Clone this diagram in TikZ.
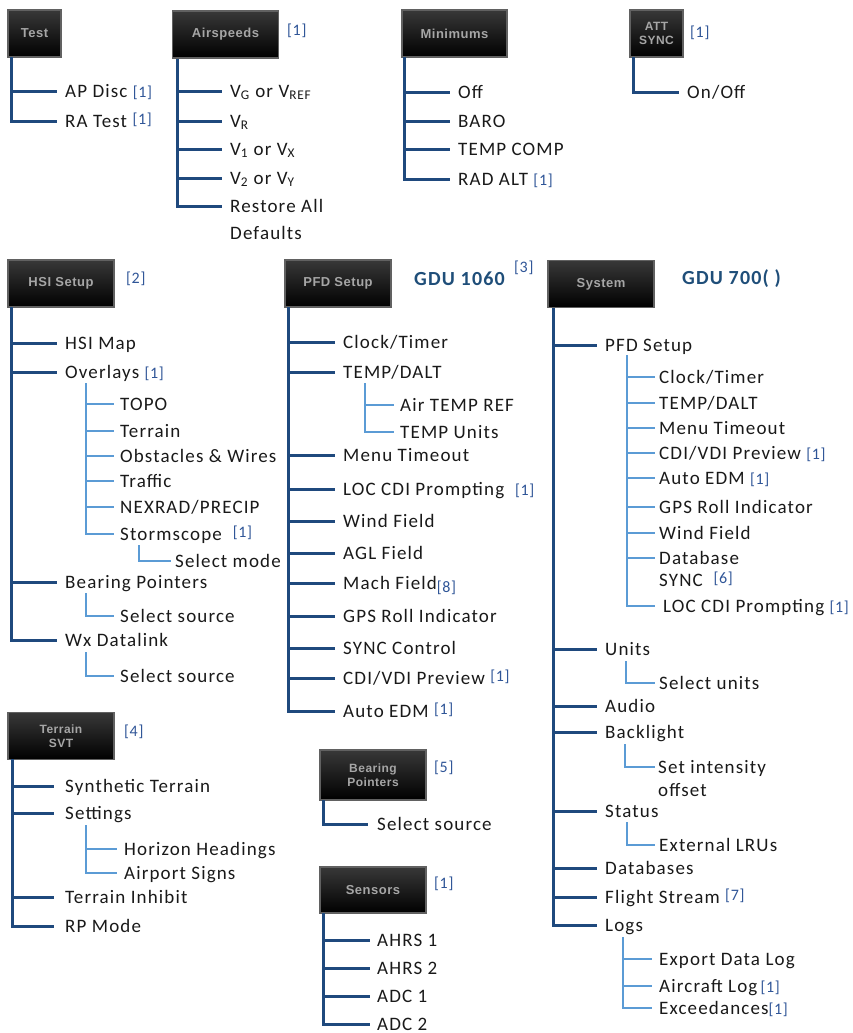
\documentclass[tikz,border=0pt]{standalone}
\usepackage{fontspec}
\setmainfont{Carlito}[LetterSpace=6]
\newfontfamily\btnfont{Liberation Sans}[LetterSpace=4]
\newfontfamily\fnfont{Carlito}[LetterSpace=4]
\usetikzlibrary{calc}
\definecolor{mainblue}{RGB}{31,73,125}
\definecolor{subblue}{RGB}{91,155,213}
\definecolor{fnblue}{RGB}{47,85,151}
\definecolor{gdublue}{RGB}{31,78,121}
\newcommand\fnote[1]{\textcolor{fnblue}{\fnfont\fontsize{16}{18}\selectfont[#1]}}
\newcommand\fnup[1]{\raisebox{3pt}{\fnote{#1}}}
\newcommand\fndown[1]{\raisebox{-3pt}{\fnote{#1}}}
\tikzset{
  main/.style={draw=mainblue, line width=3pt},
  sub/.style={draw=subblue, line width=2.6pt},
  leaf/.style={anchor=west, inner xsep=8pt, inner ysep=0pt, text height=14pt, text depth=2pt,
    font=\fontsize{19}{22}\selectfont, text=black!90},
  sleaf/.style={leaf, inner xsep=6pt},
  fnn/.style={anchor=west, inner sep=0pt, text=fnblue, font=\fnfont\fontsize{16}{18}\selectfont},
  gdu/.style={anchor=west, inner sep=0pt, text=gdublue, font=\fontsize{20}{22}\selectfont\bfseries},
  btn/.style={rectangle, minimum width=106pt, minimum height=47pt, inner sep=0pt,
    top color=black!78, bottom color=black, draw=black!62, line width=1.5pt,
    text=gray!70, align=center, font=\btnfont\fontsize{13}{14}\selectfont\bfseries},
  nbtn/.style={btn, minimum width=53pt},
}
\begin{document}
\begin{tikzpicture}[x=1pt, y=-1pt]
\useasboundingbox (0,0) rectangle (853,1033);

% ---------------- Test ----------------
\node[nbtn] (test) at (34.5,33.5) {Test};
\coordinate (tT) at (11,57);
\node[leaf] (apd) at (57,91) {AP Disc \fnote{1}};
\node[leaf] (rat) at (57,121) {RA Test \fnup{1}};
\draw[main] (tT) |- (rat.west);
\draw[main] (tT |- apd.west) -- (apd.west);

% ---------------- Airspeeds ----------------
\node[btn] (airs) at (225.5,34.5) {Airspeeds};
\node[fnn] (airsfn) at (287,31) {[1]};
\coordinate (tA) at (177,59);
\node[leaf] (vg) at (222,91) {V\textsubscript{G} or V\textsubscript{REF}};
\node[leaf] (vr) at (222,121) {V\textsubscript{R}};
\node[leaf] (v1) at (222,149) {V\textsubscript{1} or V\textsubscript{X}};
\node[leaf] (v2) at (222,178) {V\textsubscript{2} or V\textsubscript{Y}};
\node[leaf] (ra) at (222,206) {Restore All};
\node[leaf] (defl) at (222,233) {Defaults};
\draw[main] (tA) |- (ra.west);
\foreach \n in {vg,vr,v1,v2} \draw[main] (tA |- \n.west) -- (\n.west);

% ---------------- Minimums ----------------
\node[btn, minimum width=105pt] (mins) at (454.5,33.5) {Minimums};
\coordinate (tM) at (404,57);
\node[leaf] (off) at (450,92) {Off};
\node[leaf] (baro) at (450,121) {BARO};
\node[leaf] (tc) at (450,149) {TEMP COMP};
\node[leaf] (rad) at (450,179) {RAD ALT \fnote{1}};
\draw[main] (tM) |- (rad.west);
\foreach \n in {off,baro,tc} \draw[main] (tM |- \n.west) -- (\n.west);

% ---------------- ATT SYNC ----------------
\node[nbtn, font=\btnfont\fontsize{12}{14}\selectfont\bfseries] (att) at (656.5,33.5) {ATT\\SYNC};
\node[fnn] (attfn) at (690,33) {[1]};
\coordinate (tS) at (633,57);
\node[leaf] (onoff) at (679,92) {On/Off};
\draw[main] (tS) |- (onoff.west);

% ---------------- HSI Setup ----------------
\node[btn] (hsi) at (61,283.5) {HSI Setup};
\node[fnn] (hsifn) at (126,279) {[2]};
\coordinate (tH) at (11,307);
\node[leaf] (hmap) at (57,343) {HSI Map};
\node[leaf] (ovl) at (57,372) {Overlays \fnote{1}};
\node[leaf] (bp) at (57,582) {Bearing Pointers};
\node[leaf] (wx) at (57,640) {Wx Datalink};
\draw[main] (tH) |- (wx.west);
\foreach \n in {hmap,ovl,bp} \draw[main] (tH |- \n.west) -- (\n.west);
% overlays sub
\coordinate (tO) at (86,383);
\node[sleaf] (topo) at (114,404) {TOPO};
\node[sleaf] (terr) at (114,431) {Terrain};
\node[sleaf] (obs) at (114,456) {Obstacles \& Wires};
\node[sleaf] (traf) at (114,481) {Traffic};
\node[sleaf] (nex) at (114,507) {NEXRAD/PRECIP};
\node[sleaf] (storm) at (114,534) {Stormscope \ \fnup{1}};
\draw[sub] (tO) |- (storm.west);
\foreach \n in {topo,terr,obs,traf,nex} \draw[sub] (tO |- \n.west) -- (\n.west);
\coordinate (tSt) at (139,545);
\node[sleaf, inner xsep=4pt] (selmode) at (171,561) {Select mode};
\draw[sub] (tSt) |- (selmode.west);
\coordinate (tB) at (86,593);
\node[sleaf] (bpsrc) at (114,616) {Select source};
\draw[sub] (tB) |- (bpsrc.west);
\coordinate (tW) at (86,652);
\node[sleaf] (wxsrc) at (114,676) {Select source};
\draw[sub] (tW) |- (wxsrc.west);

% ---------------- PFD Setup ----------------
\node[btn] (pfd) at (338,283.5) {PFD Setup};
\node[gdu] (gdu1) at (414,279) {GDU 1060};
\node[fnn] (pfdfn) at (514,268) {[3]};
\coordinate (tP) at (288,307);
\node[leaf] (pclk) at (335,342) {Clock/Timer};
\node[leaf] (ptemp) at (335,372) {TEMP/DALT};
\node[leaf] (pmenu) at (335,455) {Menu Timeout};
\node[leaf] (ploc) at (335,489) {LOC CDI Prompting \ \fnote{1}};
\node[leaf] (pwind) at (335,521) {Wind Field};
\node[leaf] (pagl) at (335,553) {AGL Field};
\node[leaf] (pmach) at (335,583) {Mach Field\fndown{8}};
\node[leaf] (pgps) at (335,616) {GPS Roll Indicator};
\node[leaf] (psync) at (335,648) {SYNC Control};
\node[leaf] (pcdi) at (335,678) {CDI/VDI Preview \fnup{1}};
\node[leaf] (pedm) at (335,711) {Auto EDM \fnup{1}};
\draw[main] (tP) |- (pedm.west);
\foreach \n in {pclk,ptemp,pmenu,ploc,pwind,pagl,pmach,pgps,psync,pcdi} \draw[main] (tP |- \n.west) -- (\n.west);
\coordinate (tPT) at (365,383);
\node[sleaf] (airt) at (394,405) {Air TEMP REF};
\node[sleaf] (tunits) at (394,432) {TEMP Units};
\draw[sub] (tPT) |- (tunits.west);
\draw[sub] (tPT |- airt.west) -- (airt.west);

% ---------------- System ----------------
\node[btn] (sys) at (601,284) {System};
\node[gdu] (gdu2) at (682,279) {GDU 700( )};
\coordinate (tY) at (553,308);
\node[leaf] (spfd) at (597,345) {PFD Setup};
\node[leaf] (sunits) at (597,649) {Units};
\node[leaf] (saudio) at (597,706) {Audio};
\node[leaf] (sback) at (597,732) {Backlight};
\node[leaf] (sstat) at (597,811) {Status};
\node[leaf] (sdb) at (597,868) {Databases};
\node[leaf] (sfs) at (597,897) {Flight Stream \fnup{7}};
\node[leaf] (slogs) at (597,925) {Logs};
\draw[main] (tY) |- (slogs.west);
\foreach \n in {spfd,sunits,saudio,sback,sstat,sdb,sfs} \draw[main] (tY |- \n.west) -- (\n.west);
% PFD sub
\coordinate (tYP) at (627,355);
\node[sleaf, inner xsep=4pt] (yclk) at (655,377) {Clock/Timer};
\node[sleaf, inner xsep=4pt] (ytemp) at (655,403) {TEMP/DALT};
\node[sleaf, inner xsep=4pt] (ymenu) at (655,428) {Menu Timeout};
\node[sleaf, inner xsep=4pt] (ycdi) at (655,453) {CDI/VDI Preview \fnote{1}};
\node[sleaf, inner xsep=4pt] (yedm) at (655,478) {Auto EDM \fnote{1}};
\node[sleaf, inner xsep=4pt] (ygps) at (655,507) {GPS Roll Indicator};
\node[sleaf, inner xsep=4pt] (ywind) at (655,533) {Wind Field};
\node[sleaf, inner xsep=4pt] (ydb) at (655,558) {Database};
\node[sleaf, inner xsep=4pt] (ydb2) at (655,580) {SYNC \ \fnup{6}};
\node[sleaf, inner xsep=8pt] (yloc) at (655,606) {LOC CDI Prompting \fnote{1}};
\draw[sub] (tYP) |- (yloc.west);
\foreach \n in {yclk,ytemp,ymenu,ycdi,yedm,ygps,ywind,ydb} \draw[sub] (tYP |- \n.west) -- (\n.west);
\coordinate (tYU) at (626,661);
\node[sleaf, inner xsep=4pt] (yunits) at (655,683) {Select units};
\draw[sub] (tYU) |- (yunits.west);
\coordinate (tYB) at (625,744);
\node[sleaf, inner xsep=3pt] (yint) at (655,767) {Set intensity};
\node[sleaf, inner xsep=3pt] (yoff) at (655,790) {offset};
\draw[sub] (tYB) |- (yint.west);
\coordinate (tYS) at (627,822);
\node[sleaf, inner xsep=4pt] (ylru) at (655,845) {External LRUs};
\draw[sub] (tYS) |- (ylru.west);
\coordinate (tYL) at (623,937);
\node[sleaf, inner xsep=7pt] (yexp) at (652,959) {Export Data Log};
\node[sleaf, inner xsep=7pt] (yac) at (652,986) {Aircraft Log\,\fnote{1}};
\node[sleaf, inner xsep=7pt] (yexc) at (652,1008) {Exceedances\fnote{1}};
\draw[sub] (tYL) |- (yexc.west);
\foreach \n in {yexp,yac} \draw[sub] (tYL |- \n.west) -- (\n.west);

% ---------------- Terrain SVT ----------------
\node[btn, font=\btnfont\fontsize{12}{14}\selectfont\bfseries] (svt) at (61,736) {Terrain\\SVT};
\node[fnn] (svtfn) at (124,732) {[4]};
\coordinate (tV) at (12,759);
\node[leaf, inner xsep=11pt] (synt) at (54,786) {Synthetic Terrain};
\node[leaf, inner xsep=11pt] (sett) at (54,813) {Settings};
\node[leaf, inner xsep=11pt] (tinh) at (54,897) {Terrain Inhibit};
\node[leaf, inner xsep=11pt] (rpm) at (54,926) {RP Mode};
\draw[main] (tV) |- (rpm.west);
\foreach \n in {synt,sett,tinh} \draw[main] (tV |- \n.west) -- (\n.west);
\coordinate (tVS) at (86,825);
\node[sleaf, inner xsep=7pt] (hor) at (117,849) {Horizon Headings};
\node[sleaf, inner xsep=7pt] (aps) at (117,873) {Airport Signs};
\draw[sub] (tVS) |- (aps.west);
\draw[sub] (tVS |- hor.west) -- (hor.west);

% ---------------- Bearing Pointers ----------------
\node[btn, minimum height=50pt, font=\btnfont\fontsize{12}{14}\selectfont\bfseries] (bear) at (373,775) {Bearing\\Pointers};
\node[fnn] (bearfn) at (434,768) {[5]};
\coordinate (tBP) at (323,800);
\node[leaf, inner xsep=9pt] (bsrc) at (368,824) {Select source};
\draw[main] (tBP) |- (bsrc.west);

% ---------------- Sensors ----------------
\node[btn, minimum height=46pt] (sens) at (373,890) {Sensors};
\node[fnn] (sensfn) at (434,884) {[1]};
\coordinate (tSe) at (323,913);
\node[leaf, inner xsep=7pt] (ah1) at (370,940) {AHRS 1};
\node[leaf, inner xsep=7pt] (ah2) at (370,968) {AHRS 2};
\node[leaf, inner xsep=7pt] (adc1) at (370,996) {ADC 1};
\node[leaf, inner xsep=7pt] (adc2) at (370,1024) {ADC 2};
\draw[main] (tSe) |- (adc2.west);
\foreach \n in {ah1,ah2,adc1} \draw[main] (tSe |- \n.west) -- (\n.west);
\end{tikzpicture}
\end{document}
